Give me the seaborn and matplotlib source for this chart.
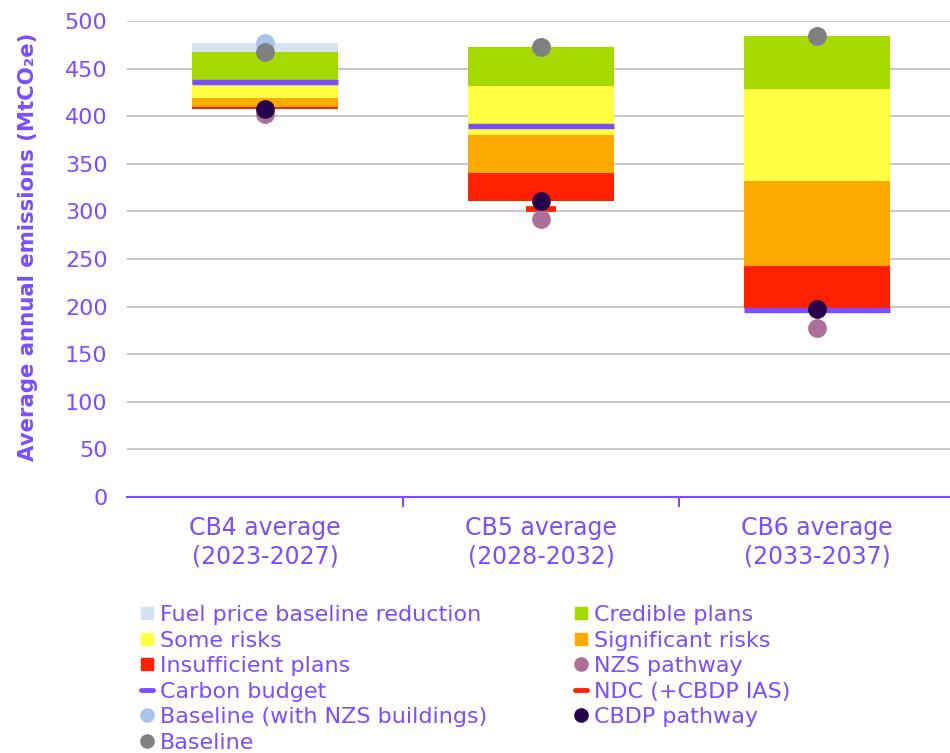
import numpy as np
import pandas as pd
import matplotlib
matplotlib.use("Agg")
import matplotlib.pyplot as plt
import seaborn as sns
from matplotlib.lines import Line2D

# ------------------------------------------------------------
# Data (MtCO2e)
# ------------------------------------------------------------

periods = ["CB4 average\n(2023-2027)", "CB5 average\n(2028-2032)", "CB6 average\n(2033-2037)"]

baseline = [467, 473, 484]
baseline_nzs_buildings = [477, 473, 484]
fuel_price_reduction = [10, 0, 0]

# stacked downwards from the baseline
credible_plans = [33.5, 41.7, 55.6]
some_risks = [14.5, 51.1, 96.3]
significant_risks = [9.0, 39.9, 89.2]
insufficient_plans = [2.7, 29.7, 44.2]

nzs_pathway = [402, 292, 177]
cbdp_pathway = [408, 311, 198]
carbon_budget = [436, 390, 196]
ndc = [np.nan, 303, np.nan]

PURPLE = "#7b4dff"

colors = {
    "fuel": "#d6e1f2",
    "credible": "#a5d900",
    "some": "#ffff44",
    "significant": "#ffaa00",
    "insufficient": "#ff2000",
    "nzs": "#ad6f98",
    "budget": PURPLE,
    "ndc": "#ff2000",
    "base_nzs": "#a9c4ec",
    "cbdp": "#26004a",
    "baseline": "#808080",
}

sns.set_theme(style="white")
plt.rcParams["font.family"] = ["DejaVu Sans"]

fig = plt.figure(figsize=(9.5, 7.53), dpi=100)
ax = fig.add_axes([127 / 950, 1 - 497 / 753, 828 / 950, 476 / 753])

bar_width = 0.53
xpos = np.arange(len(periods))

# ------------------------------------------------------------
# Stacked floating bars
# ------------------------------------------------------------

sns.barplot(x=periods, y=fuel_price_reduction, bottom=baseline,
            color=colors["fuel"], width=bar_width, errorbar=None,
            saturation=1, linewidth=0, ax=ax)

top = np.array(baseline, dtype=float)
for key, heights in [("credible", credible_plans), ("some", some_risks),
                     ("significant", significant_risks),
                     ("insufficient", insufficient_plans)]:
    heights = np.array(heights)
    sns.barplot(x=periods, y=heights, bottom=top - heights,
                color=colors[key], width=bar_width, errorbar=None,
                saturation=1, linewidth=0, ax=ax)
    top = top - heights

# ------------------------------------------------------------
# Lines and points
# ------------------------------------------------------------

ax.hlines(carbon_budget, xpos - bar_width / 2, xpos + bar_width / 2,
          colors=colors["budget"], linewidth=3.9, capstyle="butt", zorder=3)

ndc_arr = np.array(ndc)
ok = ~np.isnan(ndc_arr)
ax.hlines(ndc_arr[ok], xpos[ok] - 0.055, xpos[ok] + 0.055,
          colors=colors["ndc"], linewidth=4.1, capstyle="butt", zorder=3)

for vals, key in [(baseline_nzs_buildings, "base_nzs"), (baseline, "baseline"),
                  (nzs_pathway, "nzs"), (cbdp_pathway, "cbdp")]:
    sns.stripplot(x=periods, y=vals, jitter=False, color=colors[key],
                  size=13.5, linewidth=0, ax=ax, zorder=4)

# ------------------------------------------------------------
# Axes styling
# ------------------------------------------------------------

ax.set_xlim(-0.5, 2.5)
ax.set_ylim(0, 500)
ax.set_yticks(np.arange(0, 501, 50))
ax.set_axisbelow(True)
ax.yaxis.grid(True, color="#c8c8c8", linewidth=1.4)
ax.xaxis.grid(False)

for side in ["left", "right", "top"]:
    ax.spines[side].set_visible(False)
ax.spines["bottom"].set_color(PURPLE)
ax.spines["bottom"].set_linewidth(1.5)

ax.set_xticks([0.5, 1.5], minor=True)
ax.tick_params(axis="x", which="major", length=0, pad=14,
               labelsize=17, labelcolor=PURPLE)
ax.tick_params(axis="x", which="minor", length=7, width=1.5,
               color=PURPLE, direction="out", bottom=True)
ax.tick_params(axis="y", length=0, pad=14, labelsize=16, labelcolor=PURPLE)

ax.set_ylabel("Average annual emissions (MtCO₂e)", fontsize=15.3,
              fontweight="bold", color=PURPLE)
ax.yaxis.set_label_coords(-0.107, 0.525)

# ------------------------------------------------------------
# Legend
# ------------------------------------------------------------

def sq(c):
    return Line2D([], [], marker="s", color=c, linestyle="none", markersize=9)

def dot(c):
    return Line2D([], [], marker="o", color=c, linestyle="none", markersize=9.5)

def dash(c):
    return Line2D([], [], color=c, linewidth=3.5)

handles = [
    sq(colors["fuel"]), sq(colors["some"]), sq(colors["insufficient"]),
    dash(colors["budget"]), dot(colors["base_nzs"]), dot(colors["baseline"]),
    sq(colors["credible"]), sq(colors["significant"]), dot(colors["nzs"]),
    dash(colors["ndc"]), dot(colors["cbdp"]),
]
labels = [
    "Fuel price baseline reduction", "Some risks", "Insufficient plans",
    "Carbon budget", "Baseline (with NZS buildings)", "Baseline",
    "Credible plans", "Significant risks", "NZS pathway",
    "NDC (+CBDP IAS)", "CBDP pathway",
]

fig.legend(handles, labels, ncol=2, loc="upper left",
           bbox_to_anchor=(141 / 950, 1 - 605 / 753), frameon=False,
           fontsize=16, labelcolor=PURPLE, handlelength=0.55,
           handletextpad=0.3, columnspacing=3.95, labelspacing=0.25,
           borderpad=0, borderaxespad=0)

fig.savefig("out.png", dpi=100)
